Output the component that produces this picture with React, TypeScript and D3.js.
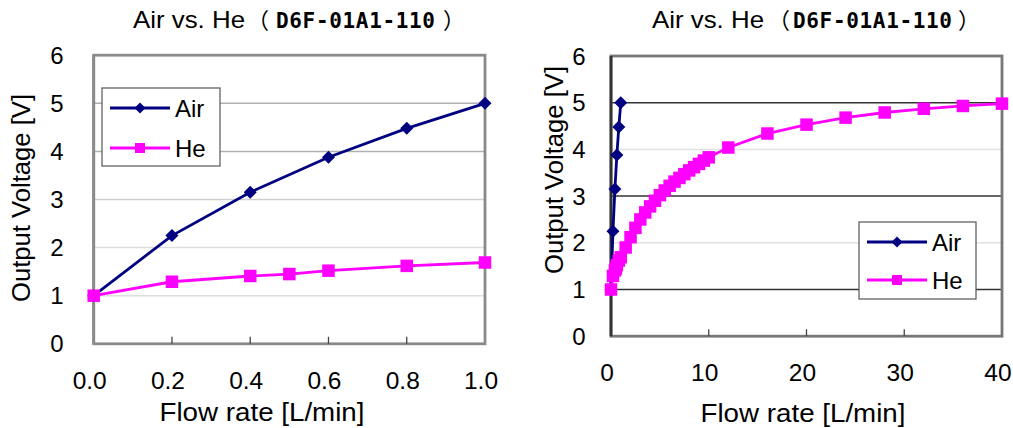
import React from "react";
import * as d3 from "d3";

// ---------- data ----------
const airX = [0, 0.2, 0.4, 0.6, 0.8, 1.0];
const airV = [1.0, 2.25, 3.15, 3.88, 4.48, 5.0];

const heLeftX = [0, 0.2, 0.4, 0.5, 0.6, 0.8, 1.0];
const heLeftV = [1.0, 1.29, 1.41, 1.45, 1.52, 1.62, 1.69];

const heRightX = [
  0, 0.2, 0.4, 0.5, 0.6, 0.8, 1.0, 1.5, 2, 2.5, 3, 3.5, 4, 4.5, 5, 5.5, 6, 6.5,
  7, 7.5, 8, 8.5, 9, 9.5, 10, 12, 16, 20, 24, 28, 32, 36, 40,
];
const heRightV = [
  1.0, 1.29, 1.41, 1.45, 1.52, 1.62, 1.69, 1.9, 2.12, 2.32, 2.5, 2.65, 2.78,
  2.9, 3.02, 3.12, 3.22, 3.31, 3.39, 3.47, 3.55, 3.62, 3.69, 3.76, 3.83, 4.04,
  4.34, 4.53, 4.68, 4.79, 4.87, 4.93, 4.98,
];

const yTicks = [0, 1, 2, 3, 4, 5, 6];
const leftXTicks = [0, 0.2, 0.4, 0.6, 0.8, 1.0];
const rightXTicks = [0, 10, 20, 30, 40];

const titleMain = "Air vs. He";
const titleModel = "D6F-01A1-110";
const xTitle = "Flow rate [L/min]";
const yTitle = "Output Voltage [V]";
const seriesNames = ["Air", "He"];

const AIR = "#000080";
const HE = "#FF00FF";
const SANS = "'Liberation Sans', Arial, sans-serif";

type Cfg = {
  x0: number; x1: number; yTop: number; yBot: number;
  xMax: number; xTicks: number[]; fmt: (v: number) => string;
  heX: number[]; heV: number[];
  gridColors: string[]; frameColor: string; leftFrame: string;
  yLabelX: number; xLabelY: number;
  xTitleX: number; xTitleY: number; yTitleX: number; yTitleY: number;
  legend: { x: number; y: number; w: number; h: number; dy: number };
  title: { main: number; open: number; model: number; close: number };
};

function Chart({ c }: { c: Cfg }) {
  const x = d3.scaleLinear().domain([0, c.xMax]).range([c.x0, c.x1]);
  const y = d3.scaleLinear().domain([0, 6]).range([c.yBot, c.yTop]);
  const line = d3
    .line<[number, number]>()
    .x((d) => x(d[0]))
    .y((d) => y(d[1]));
  const airPts: [number, number][] = airX.map((v, i) => [v, airV[i]]);
  const hePts: [number, number][] = c.heX.map((v, i) => [v, c.heV[i]]);
  const diamond = (cx: number, cy: number, r: number) =>
    `M${cx},${cy - r}L${cx + r},${cy}L${cx},${cy + r}L${cx - r},${cy}Z`;
  const sq = 12.5;
  const L = c.legend;
  return (
    <g>
      {/* title */}
      <text x={c.title.main} y={28} fontFamily={SANS} fontSize={24} textLength={112} lengthAdjust="spacingAndGlyphs">
        {titleMain}
      </text>
      <text x={c.title.open} y={28} fontFamily="'Noto Sans CJK JP'" fontSize={22}>（</text>
      <text x={c.title.model} y={28} fontFamily="'DejaVu Sans Mono', monospace" fontWeight="bold" fontSize={21} textLength={159} lengthAdjust="spacing">
        {titleModel}
      </text>
      <text x={c.title.close} y={28} fontFamily="'Noto Sans CJK JP'" fontSize={22}>）</text>

      {/* grid */}
      {yTicks.slice(1, 6).map((t, i) => (
        <line key={t} x1={c.x0} x2={c.x1} y1={y(t)} y2={y(t)} stroke={c.gridColors[i]} strokeWidth={1.5} />
      ))}
      {/* frame */}
      <rect x={c.x0} y={c.yTop} width={c.x1 - c.x0} height={c.yBot - c.yTop} fill="none" stroke={c.frameColor} strokeWidth={2.8} />
      <line x1={c.x0} x2={c.x0} y1={c.yTop} y2={c.yBot} stroke={c.leftFrame} strokeWidth={2.8} />
      {/* ticks */}
      {c.xTicks.slice(1, -1).map((t) => (
        <line key={t} x1={x(t)} x2={x(t)} y1={c.yBot} y2={c.yBot - 7} stroke="#444" strokeWidth={1.3} />
      ))}
      {/* tick labels */}
      {yTicks.map((t) => (
        <text key={t} x={c.yLabelX} y={y(t)} dy="0.36em" textAnchor="middle" fontFamily={SANS} fontSize={24}>
          {t}
        </text>
      ))}
      {c.xTicks.map((t) => (
        <text key={t} x={x(t) - 4} y={c.xLabelY} textAnchor="middle" fontFamily={SANS} fontSize={24.5}>
          {c.fmt(t)}
        </text>
      ))}
      <text x={c.xTitleX} y={c.xTitleY} textAnchor="middle" fontFamily={SANS} fontSize={25} textLength={205} lengthAdjust="spacingAndGlyphs">
        {xTitle}
      </text>
      <text
        transform={`translate(${c.yTitleX},${c.yTitleY}) rotate(-90)`}
        textAnchor="middle"
        dy="0.36em"
        fontFamily={SANS}
        fontSize={25}
        textLength={208}
        lengthAdjust="spacingAndGlyphs"
      >
        {yTitle}
      </text>

      {/* series */}
      <path d={line(airPts) || ""} fill="none" stroke={AIR} strokeWidth={2.8} />
      {airPts.map((p, i) => (
        <path key={i} d={diamond(x(p[0]), y(p[1]), 6.5)} fill={AIR} />
      ))}
      <path d={line(hePts) || ""} fill="none" stroke={HE} strokeWidth={2.8} />
      {hePts.map((p, i) => (
        <rect key={i} x={x(p[0]) - sq / 2} y={y(p[1]) - sq / 2} width={sq} height={sq} fill={HE} />
      ))}

      {/* legend */}
      <rect x={L.x} y={L.y} width={L.w} height={L.h} fill="#fff" stroke="#555" strokeWidth={1.2} />
      {seriesNames.map((name, i) => {
        const ly = L.y + 20 + i * L.dy;
        const col = i === 0 ? AIR : HE;
        const mx = L.x + 38;
        return (
          <g key={name}>
            <line x1={L.x + 8} x2={L.x + 68} y1={ly} y2={ly} stroke={col} strokeWidth={3} />
            {i === 0 ? (
              <path d={diamond(mx, ly, 5.5)} fill={col} />
            ) : (
              <rect x={mx - 5} y={ly - 5} width={10} height={10} fill={col} />
            )}
            <text x={L.x + 73} y={ly + 8.5} fontFamily={SANS} fontSize={24}>
              {name}
            </text>
          </g>
        );
      })}
    </g>
  );
}

const leftCfg: Cfg = {
  x0: 93.7, x1: 485, yTop: 55.2, yBot: 343.8,
  xMax: 1, xTicks: leftXTicks, fmt: (v) => d3.format(".1f")(v),
  heX: heLeftX, heV: heLeftV,
  gridColors: ["#dedede", "#dedede", "#d0d0d0", "#b0b0b0", "#b0b0b0"],
  frameColor: "#8a8a8a", leftFrame: "#8a8a8a",
  yLabelX: 57, xLabelY: 389,
  xTitleX: 262, xTitleY: 421, yTitleX: 21, yTitleY: 198,
  legend: { x: 102, y: 88, w: 118, h: 78, dy: 40 },
  title: { main: 133, open: 247, model: 276, close: 443 },
};

const rightCfg: Cfg = {
  x0: 611, x1: 1002, yTop: 56, yBot: 336.2,
  xMax: 40, xTicks: rightXTicks, fmt: (v) => String(v),
  heX: heRightX, heV: heRightV,
  gridColors: ["#333", "#e0e0e0", "#333", "#e0e0e0", "#333"],
  frameColor: "#777", leftFrame: "#333",
  yLabelX: 579, xLabelY: 381,
  xTitleX: 803, xTitleY: 422, yTitleX: 554, yTitleY: 170,
  legend: { x: 859, y: 222, w: 117, h: 77, dy: 38 },
  title: { main: 652, open: 768, model: 793, close: 958 },
};

export default function App() {
  return (
    <div style={{ position: "absolute", left: 0, top: 0 }}>
      <svg width={1013} height={428} style={{ display: "block", background: "#fff" }}>
        <rect width={1013} height={428} fill="#fff" />
        <Chart c={leftCfg} />
        <Chart c={rightCfg} />
      </svg>
    </div>
  );
}
